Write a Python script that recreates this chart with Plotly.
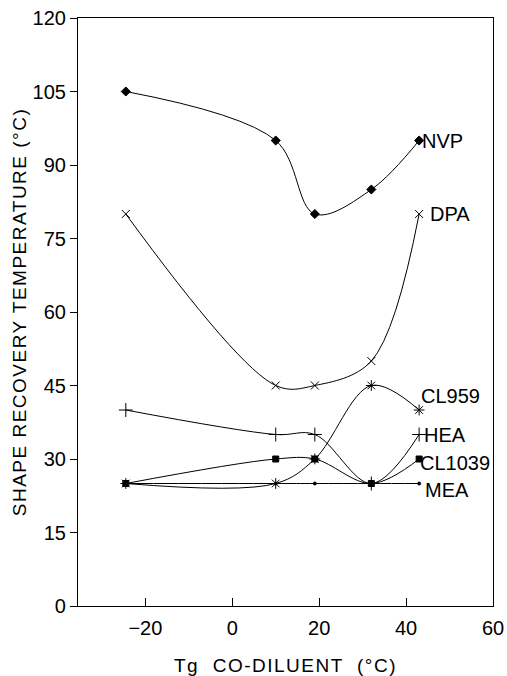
import plotly.graph_objects as go

tg = [-24.5, 10, 19, 32, 43]
series_names = ["NVP", "DPA", "CL959", "HEA", "CL1039", "MEA"]
nvp = [105, 95, 80, 85, 95]
dpa = [80, 45, 45, 50, 80]
cl959 = [25, 25, 30, 45, 40]
hea = [40, 35, 35, 25, 35]
cl1039 = [25, 30, 30, 25, 30]
mea = [25, 25, 25, 25, 25]
x_ticks = [-20, 0, 20, 40, 60]
y_ticks = [0, 15, 30, 45, 60, 75, 90, 105, 120]

values = [nvp, dpa, cl959, hea, cl1039, mea]
symbols = ["diamond", "x-thin-open", "asterisk-open", "cross-thin-open", "square", "circle"]
sizes = [7, 8, 9, 10, 6, 3]
label_shift = [(1, 0), (9, 0), (0, 14), (3, 0), (-1, -4), (4, -6)]

FONT = "Liberation Sans, Arial, Helvetica"

fig = go.Figure()
for name, vals, sym, sz in zip(series_names, values, symbols, sizes):
    fig.add_trace(go.Scatter(
        x=tg, y=vals, mode="lines+markers", name=name,
        line=dict(color="black", width=1, shape="spline", smoothing=1.0),
        marker=dict(symbol=sym, size=sz, color="black",
                    line=dict(color="black", width=1)),
        showlegend=False,
    ))

for name, vals, (dx, dy) in zip(series_names, values, label_shift):
    fig.add_annotation(x=tg[-1], y=vals[-1], text=name, showarrow=False,
                       xanchor="left", yanchor="middle", xshift=dx, yshift=dy,
                       font=dict(family=FONT, size=20, color="black"))

fig.update_layout(
    width=507, height=676,
    margin=dict(l=78, r=14, t=18, b=70),
    paper_bgcolor="white", plot_bgcolor="white",
    font=dict(family=FONT, size=19, color="black"),
    xaxis=dict(range=[-35.5, 60], tickvals=x_ticks, ticks="inside", ticklen=8,
               tickcolor="black", showline=True, linecolor="black", linewidth=1.2,
               mirror=True, showgrid=False, zeroline=False, automargin=False,
               ticklabeloverflow="allow", ticklabelstandoff=4,
               title=dict(text="Tg  CO-DILUENT  (°C)", standoff=20, font=dict(size=19)),
               tickfont=dict(size=20)),
    yaxis=dict(range=[0, 120], tickvals=y_ticks, ticks="outside", ticklen=7,
               tickcolor="black", showline=True, linecolor="black", linewidth=1.2,
               mirror=True, showgrid=False, zeroline=False, automargin=False,
               ticklabeloverflow="allow",
               title=dict(text="SHAPE RECOVERY TEMPERATURE (°C)", standoff=0,
                          font=dict(size=19)),
               tickfont=dict(size=20)),
)

post = ("document.body.style.margin='0';"
        "var s=document.createElement('style');"
        "s.innerHTML='.xtitle{letter-spacing:1.5px}.ytitle{letter-spacing:1.5px}';"
        "document.head.appendChild(s);")
fig.write_html("out.html", post_script=post, config={"displayModeBar": False})
